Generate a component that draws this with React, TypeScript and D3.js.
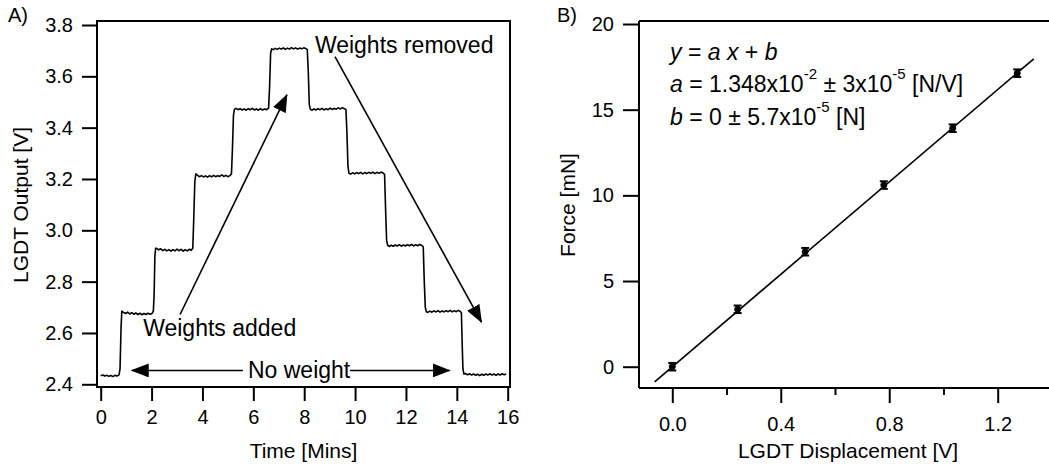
import React, { useEffect, useRef } from "react";
import * as d3 from "d3";

// Panel A: LGDT output trace while weights are added and removed
const timeMin = [
  0.0, 0.08, 0.16, 0.24, 0.32, 0.4, 0.48, 0.56, 0.64, 0.72, 0.76, 0.8, 0.83,
  0.9, 0.98, 1.06, 1.14, 1.22, 1.3, 1.38, 1.46, 1.54, 1.62, 1.7, 1.78, 1.86, 1.94, 2.02, 2.07, 2.1, 2.13, 2.16,
  2.2, 2.28, 2.36, 2.44, 2.52, 2.6, 2.68, 2.76, 2.84, 2.92, 3.0, 3.08, 3.16, 3.24, 3.32, 3.4, 3.48, 3.56, 3.62, 3.66, 3.7, 3.74,
  3.8, 3.88, 3.96, 4.04, 4.12, 4.2, 4.28, 4.36, 4.44, 4.52, 4.6, 4.68, 4.76, 4.84, 4.92, 5.0, 5.08, 5.14, 5.18, 5.22, 5.26,
  5.32, 5.4, 5.48, 5.56, 5.64, 5.72, 5.8, 5.88, 5.96, 6.04, 6.12, 6.2, 6.28, 6.36, 6.44, 6.52, 6.6, 6.64, 6.68, 6.72,
  6.78, 6.86, 6.94, 7.02, 7.1, 7.18, 7.26, 7.34, 7.42, 7.5, 7.58, 7.66, 7.74, 7.82, 7.9, 7.98, 8.06, 8.12, 8.16, 8.2, 8.24,
  8.3, 8.38, 8.46, 8.54, 8.62, 8.7, 8.78, 8.86, 8.94, 9.02, 9.1, 9.18, 9.26, 9.34, 9.42, 9.5, 9.58, 9.64, 9.68, 9.72, 9.76,
  9.82, 9.9, 9.98, 10.06, 10.14, 10.22, 10.3, 10.38, 10.46, 10.54, 10.62, 10.7, 10.78, 10.86, 10.94, 11.02, 11.1, 11.16, 11.2, 11.24, 11.28,
  11.34, 11.42, 11.5, 11.58, 11.66, 11.74, 11.82, 11.9, 11.98, 12.06, 12.14, 12.22, 12.3, 12.38, 12.46, 12.54, 12.62, 12.68, 12.72, 12.76, 12.8,
  12.86, 12.94, 13.02, 13.1, 13.18, 13.26, 13.34, 13.42, 13.5, 13.58, 13.66, 13.74, 13.82, 13.9, 13.98, 14.06, 14.14, 14.18, 14.21, 14.24, 14.28,
  14.34, 14.42, 14.5, 14.58, 14.66, 14.74, 14.82, 14.9, 14.98, 15.06, 15.14, 15.22, 15.3, 15.38, 15.46, 15.54, 15.62, 15.7, 15.78, 15.86, 15.94,
];
const outputV = [
  2.433, 2.436, 2.432, 2.435, 2.431, 2.434, 2.43, 2.435, 2.432, 2.437, 2.46, 2.62, 2.685,
  2.68, 2.676, 2.681, 2.674, 2.679, 2.673, 2.678, 2.672, 2.677, 2.671, 2.676, 2.672, 2.677, 2.673, 2.676, 2.685, 2.75, 2.9, 2.93,
  2.93, 2.924, 2.928, 2.921, 2.926, 2.92, 2.925, 2.919, 2.925, 2.92, 2.927, 2.921, 2.926, 2.919, 2.925, 2.92, 2.926, 2.922, 2.93, 3.05, 3.19, 3.22,
  3.215, 3.209, 3.213, 3.208, 3.212, 3.207, 3.213, 3.208, 3.214, 3.209, 3.213, 3.21, 3.216, 3.21, 3.214, 3.209, 3.213, 3.22, 3.32, 3.45, 3.472,
  3.475, 3.47, 3.474, 3.469, 3.473, 3.468, 3.474, 3.47, 3.475, 3.469, 3.473, 3.468, 3.474, 3.469, 3.473, 3.47, 3.476, 3.56, 3.69, 3.707,
  3.704, 3.709, 3.705, 3.71, 3.706, 3.711, 3.705, 3.71, 3.706, 3.712, 3.707, 3.711, 3.706, 3.71, 3.707, 3.711, 3.708, 3.705, 3.62, 3.49, 3.472,
  3.468, 3.473, 3.469, 3.474, 3.47, 3.475, 3.469, 3.474, 3.47, 3.476, 3.471, 3.475, 3.472, 3.477, 3.473, 3.478, 3.474, 3.47, 3.38, 3.25, 3.222,
  3.219, 3.224, 3.22, 3.225, 3.221, 3.226, 3.22, 3.225, 3.221, 3.226, 3.222, 3.227, 3.221, 3.226, 3.222, 3.227, 3.223, 3.218, 3.08, 2.96, 2.942,
  2.937, 2.942, 2.938, 2.943, 2.939, 2.944, 2.938, 2.943, 2.939, 2.944, 2.94, 2.945, 2.939, 2.944, 2.94, 2.945, 2.941, 2.936, 2.8, 2.7, 2.683,
  2.68, 2.685, 2.681, 2.686, 2.682, 2.687, 2.681, 2.686, 2.682, 2.687, 2.683, 2.688, 2.682, 2.687, 2.683, 2.688, 2.684, 2.678, 2.56, 2.46, 2.44,
  2.442, 2.437, 2.441, 2.436, 2.44, 2.435, 2.439, 2.434, 2.439, 2.435, 2.44, 2.436, 2.441, 2.436, 2.44, 2.435, 2.44, 2.436, 2.441, 2.437, 2.44,
];
const timeTicks = [0, 2, 4, 6, 8, 10, 12, 14, 16];
const outputTicks = [2.4, 2.6, 2.8, 3.0, 3.2, 3.4, 3.6, 3.8];

// Panel B: calibration points and linear fit
const dispV = [0, 0.241, 0.49, 0.78, 1.034, 1.272];
const forceMN = [0, 3.35, 6.71, 10.6, 13.92, 17.13];
const forceErr = [0.22, 0.22, 0.22, 0.22, 0.22, 0.22];
const fitX = [-0.065, 1.333];
const fitY = [-0.88, 17.97];
const dispTicks = [0, 0.4, 0.8, 1.2];
const dispMinorTicks = [0.2, 0.6, 1.0];
const forceTicks = [0, 5, 10, 15, 20];

const FONT = "'Liberation Sans', Arial, Helvetica, sans-serif";

const W = 1049;
const H = 468;

// plot boxes
const A = { left: 97, right: 510, top: 21, bottom: 387 };
const B = { left: 639, right: 1049, top: 21, bottom: 388 };

const xA = d3.scaleLinear().domain([0, 16]).range([100.7, 507.7]);
const yA = d3.scaleLinear().domain([2.4, 3.8]).range([384.3, 25]);
const xB = d3.scaleLinear().domain([0, 1.2]).range([672.3, 997.7]);
const yB = d3.scaleLinear().domain([0, 20]).range([366.7, 24]);

function styleAxis(g: d3.Selection<SVGGElement, unknown, null, undefined>) {
  g.select(".domain").remove();
  g.attr("font-family", FONT).attr("font-size", 20);
  g.selectAll("line").attr("stroke", "#000").attr("stroke-width", 2);
  g.selectAll("text").attr("fill", "#000");
}

export default function App() {
  const axAx = useRef<SVGGElement>(null);
  const axAy = useRef<SVGGElement>(null);
  const axBx = useRef<SVGGElement>(null);
  const axBxMinor = useRef<SVGGElement>(null);
  const axBy = useRef<SVGGElement>(null);

  useEffect(() => {
    d3.select(axAx.current!)
      .call(d3.axisBottom(xA).tickValues(timeTicks).tickSize(14).tickPadding(9).tickFormat(d3.format("d")))
      .call(styleAxis);
    d3.select(axAy.current!)
      .call(d3.axisLeft(yA).tickValues(outputTicks).tickSize(15).tickPadding(9).tickFormat(d3.format(".1f")))
      .call(styleAxis);
    d3.select(axBx.current!)
      .call(d3.axisBottom(xB).tickValues(dispTicks).tickSize(15).tickPadding(14).tickFormat(d3.format(".1f")))
      .call(styleAxis);
    d3.select(axBxMinor.current!)
      .call(d3.axisBottom(xB).tickValues(dispMinorTicks).tickSize(7).tickFormat(() => ""))
      .call(styleAxis);
    d3.select(axBy.current!)
      .call(d3.axisLeft(yB).tickValues(forceTicks).tickSize(16).tickPadding(9).tickFormat(d3.format("d")))
      .call(styleAxis);
  }, []);

  const trace = d3
    .line<number>()
    .x((_, i) => xA(timeMin[i]))
    .y((d) => yA(d));

  const fit = d3
    .line<number>()
    .x((_, i) => xB(fitX[i]))
    .y((d) => yB(d));

  const arrowLine = (x1: number, y1: number, x2: number, y2: number, id: string) => (
    <line x1={x1} y1={y1} x2={x2} y2={y2} stroke="#000" strokeWidth={1.6} markerEnd={`url(#${id})`} />
  );

  return (
    <svg width={W} height={H} style={{ display: "block", position: "absolute", left: 0, top: 0 }} fontFamily={FONT}>
      <defs>
        <marker id="arr" markerUnits="userSpaceOnUse" markerWidth={18} markerHeight={14} refX={17} refY={7} orient="auto">
          <path d="M0,0 L18,7 L0,14 Z" fill="#000" />
        </marker>
      </defs>
      <rect width={W} height={H} fill="#fff" />

      {/* ---------- Panel A ---------- */}
      <text x={8} y={22} fontSize={20}>A)</text>
      <rect x={A.left} y={A.top} width={A.right - A.left} height={A.bottom - A.top} fill="none" stroke="#000" strokeWidth={2} />
      <g ref={axAx} transform={`translate(0,${A.bottom})`} />
      <g ref={axAy} transform={`translate(${A.left},0)`} />
      <path d={trace(outputV) ?? ""} fill="none" stroke="#000" strokeWidth={1.6} strokeLinejoin="round" />

      {arrowLine(xA(3.12), yA(2.672), xA(7.32), yA(3.528), "arr")}
      {arrowLine(xA(9.21), yA(3.677), xA(14.97), yA(2.642), "arr")}
      {arrowLine(xA(5.59), yA(2.454), xA(1.22), yA(2.454), "arr")}
      {arrowLine(xA(9.8), yA(2.454), xA(13.72), yA(2.454), "arr")}
      <text x={xA(8.42)} y={yA(3.691)} fontSize={23}>Weights removed</text>
      <text x={xA(1.67)} y={yA(2.59)} fontSize={23}>Weights added</text>
      <text x={xA(7.8)} y={yA(2.454) + 8} fontSize={23} textAnchor="middle">No weight</text>

      <text x={(A.left + A.right) / 2} y={458} fontSize={21} textAnchor="middle">Time [Mins]</text>
      <text transform="translate(28,205) rotate(-90)" fontSize={21} textAnchor="middle">LGDT Output [V]</text>

      {/* ---------- Panel B ---------- */}
      <text x={557} y={22} fontSize={20}>B)</text>
      <line x1={B.left} y1={B.top} x2={B.left} y2={B.bottom} stroke="#000" strokeWidth={2} />
      <line x1={B.left} y1={B.top} x2={B.right} y2={B.top} stroke="#000" strokeWidth={2} />
      <line x1={B.left} y1={B.bottom} x2={B.right} y2={B.bottom} stroke="#000" strokeWidth={2} />
      <g ref={axBx} transform={`translate(0,${B.bottom})`} />
      <g ref={axBxMinor} transform={`translate(0,${B.bottom})`} />
      <g ref={axBy} transform={`translate(${B.left},0)`} />

      <path d={fit(fitY) ?? ""} fill="none" stroke="#000" strokeWidth={1.6} />
      {dispV.map((x, i) => {
        const cx = xB(x);
        const y1 = yB(forceMN[i] - forceErr[i]);
        const y2 = yB(forceMN[i] + forceErr[i]);
        return (
          <g key={i} stroke="#000">
            <line x1={cx} x2={cx} y1={y1} y2={y2} strokeWidth={3} />
            <line x1={cx - 4} x2={cx + 4} y1={y1} y2={y1} strokeWidth={2} />
            <line x1={cx - 4} x2={cx + 4} y1={y2} y2={y2} strokeWidth={2} />
            <circle cx={cx} cy={yB(forceMN[i])} r={3} fill="#000" />
          </g>
        );
      })}

      <g fontSize={23}>
        <text x={670} y={60}>
          <tspan fontStyle="italic">y</tspan>
          {" = "}
          <tspan fontStyle="italic">a</tspan>
          {" "}
          <tspan fontStyle="italic">x</tspan>
          {" + "}
          <tspan fontStyle="italic">b</tspan>
        </text>
        <text x={670} y={92}>
          <tspan fontStyle="italic">a</tspan>
          {" = 1.348x10"}
          <tspan dy={-13} fontSize={15}>-2</tspan>
          <tspan dy={13}>{" ± 3x10"}</tspan>
          <tspan dy={-13} fontSize={15}>-5</tspan>
          <tspan dy={13}>{" [N/V]"}</tspan>
        </text>
        <text x={670} y={125}>
          <tspan fontStyle="italic">b</tspan>
          {" = 0 ± 5.7x10"}
          <tspan dy={-13} fontSize={15}>-5</tspan>
          <tspan dy={13}>{" [N]"}</tspan>
        </text>
      </g>

      <text x={848} y={458} fontSize={21} textAnchor="middle">LGDT Displacement [V]</text>
      <text transform="translate(575,205) rotate(-90)" fontSize={21} textAnchor="middle">Force [mN]</text>
    </svg>
  );
}
